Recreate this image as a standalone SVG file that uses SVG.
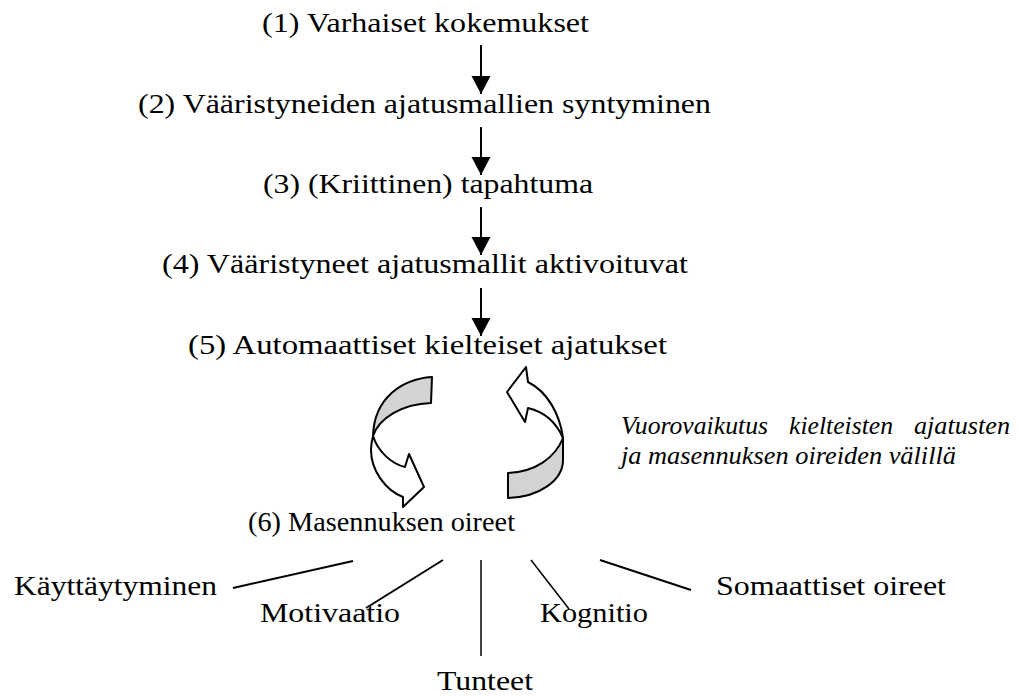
<svg xmlns="http://www.w3.org/2000/svg" width="1019" height="697" viewBox="0 0 1019 697">
<style>
text{fill:#000}
.t{font-size:28px}
.i{font-size:25px;font-style:italic}
.c{stroke:#000;stroke-width:2;fill:none}
.c2{stroke:#000;stroke-width:1.5;fill:none}
.band{stroke:#000;stroke-width:2;stroke-linejoin:round}
</style>
<defs>
<marker id="ah" markerUnits="userSpaceOnUse" markerWidth="20" markerHeight="20" viewBox="0 0 20 20" refX="19" refY="10" orient="auto">
<path d="M1,0.5 L19,10 L1,19.5 Z" fill="#000"/>
</marker>
</defs>
<rect width="1019" height="697" fill="#fff"/>
<g id="connectors">
<line class="c" x1="481" y1="45" x2="481" y2="94" marker-end="url(#ah)"/>
<line class="c" x1="481" y1="127" x2="481" y2="175" marker-end="url(#ah)"/>
<line class="c" x1="481" y1="207" x2="481" y2="255" marker-end="url(#ah)"/>
<line class="c" x1="481" y1="288" x2="481" y2="336" marker-end="url(#ah)"/>
<line class="c" x1="233" y1="588" x2="353" y2="561"/>
<line class="c" x1="366" y1="608" x2="443" y2="560"/>
<line class="c2" x1="481" y1="560" x2="481" y2="656"/>
<line class="c2" x1="531" y1="560" x2="569" y2="609"/>
<line class="c" x1="600" y1="560" x2="691" y2="590"/>
</g>
<g id="cycle-left">
<path class="band" fill="#d3d3d3" d="M432,377 C402,379 374,398 373,436 C379,418 402,404 431,403 Z"/>
<path class="band" fill="#fff" d="M373,436 C378,452 392,464 405,467 L409,454 L424,487 L403,507 L403,497 C385,490 371,470 371,450 C371,444 372,440 373,436 Z"/>
</g>
<g id="cycle-right">
<path class="band" fill="#fff" d="M563,438 C560,415 548,392 528,382 L526,367 L507,392 L525,422 L528,408 C545,412 556,422 563,438 Z"/>
<path class="band" fill="#d3d3d3" d="M563,438 L563,460 C563,480 540,497 508,498 L508,473 C535,472 555,458 563,438 Z"/>
</g>
<g font-family="Liberation Serif, serif">
<g id="n1"><text class="t" x="262" y="32" textLength="327" lengthAdjust="spacingAndGlyphs">(1) Varhaiset kokemukset</text></g>
<g id="n2"><text class="t" x="138" y="113" textLength="573" lengthAdjust="spacingAndGlyphs">(2) Vääristyneiden ajatusmallien syntyminen</text></g>
<g id="n3"><text class="t" x="263" y="193" textLength="330" lengthAdjust="spacingAndGlyphs">(3) (Kriittinen) tapahtuma</text></g>
<g id="n4"><text class="t" x="162" y="273" textLength="526" lengthAdjust="spacingAndGlyphs">(4) Vääristyneet ajatusmallit aktivoituvat</text></g>
<g id="n5"><text class="t" x="188" y="354" textLength="479" lengthAdjust="spacingAndGlyphs">(5) Automaattiset kielteiset ajatukset</text></g>
<g id="n6"><text class="t" x="248" y="531" textLength="267" lengthAdjust="spacingAndGlyphs">(6) Masennuksen oireet</text></g>
<g id="note">
<text class="i" y="434"><tspan x="621" textLength="147" lengthAdjust="spacingAndGlyphs">Vuorovaikutus</tspan><tspan x="789" textLength="104" lengthAdjust="spacingAndGlyphs">kielteisten</tspan><tspan x="914" textLength="96" lengthAdjust="spacingAndGlyphs">ajatusten</tspan></text>
<text class="i" x="621" y="464" textLength="335" lengthAdjust="spacingAndGlyphs">ja masennuksen oireiden välillä</text>
</g>
<g id="s1"><text class="t" x="14" y="595" textLength="203" lengthAdjust="spacingAndGlyphs">Käyttäytyminen</text></g>
<g id="s2"><text class="t" x="260" y="622" textLength="140" lengthAdjust="spacingAndGlyphs">Motivaatio</text></g>
<g id="s3"><text class="t" x="437" y="690" textLength="96" lengthAdjust="spacingAndGlyphs">Tunteet</text></g>
<g id="s4"><text class="t" x="540" y="622" textLength="108" lengthAdjust="spacingAndGlyphs">Kognitio</text></g>
<g id="s5"><text class="t" x="716" y="595" textLength="230" lengthAdjust="spacingAndGlyphs">Somaattiset oireet</text></g>
</g>
</svg>
